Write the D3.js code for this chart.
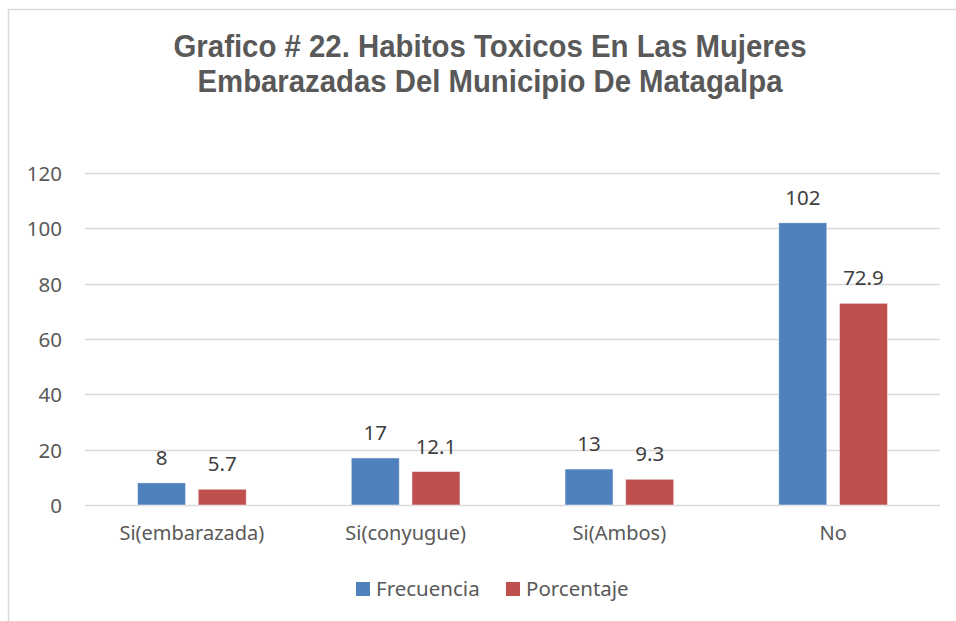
<!doctype html>
<html lang="es">
<head>
    <meta charset="utf-8" />
    <title>Grafico 22</title>
    <script src="https://cdn.jsdelivr.net/npm/d3@7"></script>
    <style>
        body { margin: 0; background: #fff; }
        svg text { font-family: "Noto Sans", "Open Sans", sans-serif; }
    </style>
</head>
<body>
    <svg id="chart"></svg>

    <script>
        // datos
        const categories = ["Si(embarazada)", "Si(conyugue)", "Si(Ambos)", "No"];
        const seriesNames = ["Frecuencia", "Porcentaje"];
        const frecuencia = [8, 17, 13, 102];
        const porcentaje = [5.7, 12.1, 9.3, 72.9];
        const yTicks = [0, 20, 40, 60, 80, 100, 120];
        const titleLines = ["Grafico # 22. Habitos Toxicos En Las Mujeres",
                            "Embarazadas Del Municipio De Matagalpa"];
        const colors = ["#4F81BD", "#C0504D"];

        const width = 956, height = 621;
        const plot = {left: 85, right: 940, top: 173, bottom: 505};

        const svg = d3.select("#chart")
            .attr("width", width)
            .attr("height", height);

        // marco del grafico (solo se ven borde izquierdo y superior)
        svg.append("rect")
            .attr("x", 8.5).attr("y", 9.5)
            .attr("width", width + 20).attr("height", height + 20)
            .attr("fill", "none")
            .attr("stroke", "#d9d9d9")
            .attr("stroke-width", 1.5);

        // titulo
        const titleWidths = [633, 585];
        svg.append("g").selectAll("text")
            .data(titleLines)
            .join("text")
            .attr("x", width / 2 + 12)
            .attr("y", (d, i) => 57 + i * 35)
            .attr("text-anchor", "middle")
            .style("font-family", "'Liberation Sans', Arial, sans-serif")
            .attr("font-weight", "bold")
            .attr("font-size", 31)
            .attr("fill", "#595959")
            .attr("textLength", (d, i) => titleWidths[i])
            .attr("lengthAdjust", "spacingAndGlyphs")
            .text(d => d);

        const y = d3.scaleLinear().domain([0, 120]).range([plot.bottom, plot.top]);
        const x0 = d3.scaleBand().domain(categories).range([plot.left, plot.right]);
        const barW = 48, barGap = 12.7;
        const x1 = d3.scaleOrdinal().domain(seriesNames)
            .range([-(barW + barGap / 2), barGap / 2]);

        // cuadricula
        svg.append("g").selectAll("line")
            .data(yTicks)
            .join("line")
            .attr("x1", plot.left).attr("x2", plot.right)
            .attr("y1", d => Math.round(y(d)) + 0.5)
            .attr("y2", d => Math.round(y(d)) + 0.5)
            .attr("stroke", "#d9d9d9")
            .attr("stroke-width", 1.5);

        // eje y
        const yAxis = svg.append("g")
            .attr("transform", `translate(${plot.left}, 0)`)
            .call(d3.axisLeft(y).tickValues(yTicks).tickSize(0).tickPadding(23));
        yAxis.select(".domain").remove();
        yAxis.selectAll("text")
            .attr("font-size", 20.5)
            .attr("fill", "#595959")
            .attr("dy", "0.36em");

        // eje x
        const xAxis = svg.append("g")
            .attr("transform", `translate(0, ${plot.bottom})`)
            .call(d3.axisBottom(x0).tickSize(0).tickPadding(21));
        xAxis.select(".domain").remove();
        xAxis.selectAll("text")
            .attr("font-size", 20)
            .attr("fill", "#595959");

        const rows = categories.map((c, i) => ({
            cat: c,
            values: [
                {name: seriesNames[0], value: frecuencia[i], color: colors[0]},
                {name: seriesNames[1], value: porcentaje[i], color: colors[1]}
            ]
        }));

        const group = svg.append("g").selectAll("g")
            .data(rows)
            .join("g")
            .attr("transform", d => `translate(${x0(d.cat) + x0.bandwidth() / 2}, 0)`);

        group.selectAll("rect")
            .data(d => d.values)
            .join("rect")
            .attr("x", d => x1(d.name))
            .attr("y", d => y(d.value))
            .attr("width", barW)
            .attr("height", d => plot.bottom - y(d.value))
            .attr("fill", d => d.color)
            .attr("stroke", "#ffffff")
            .attr("stroke-opacity", 0.6)
            .attr("stroke-width", 0.8);

        group.selectAll("text")
            .data(d => d.values)
            .join("text")
            .attr("x", d => x1(d.name) + barW / 2)
            .attr("y", d => y(d.value) - 18)
            .attr("text-anchor", "middle")
            .attr("font-size", 20.5)
            .attr("fill", "#404040")
            .text(d => d.value);

        // leyenda
        const legendX = [356, 506];
        const legend = svg.append("g").selectAll("g")
            .data(seriesNames)
            .join("g")
            .attr("transform", (d, i) => `translate(${legendX[i]}, 582)`);
        legend.append("rect")
            .attr("width", 14).attr("height", 14)
            .attr("fill", (d, i) => colors[i]);
        legend.append("text")
            .attr("x", 20).attr("y", 14)
            .attr("font-size", 20.5)
            .attr("fill", "#595959")
            .text(d => d);
    </script>
</body>
</html>
